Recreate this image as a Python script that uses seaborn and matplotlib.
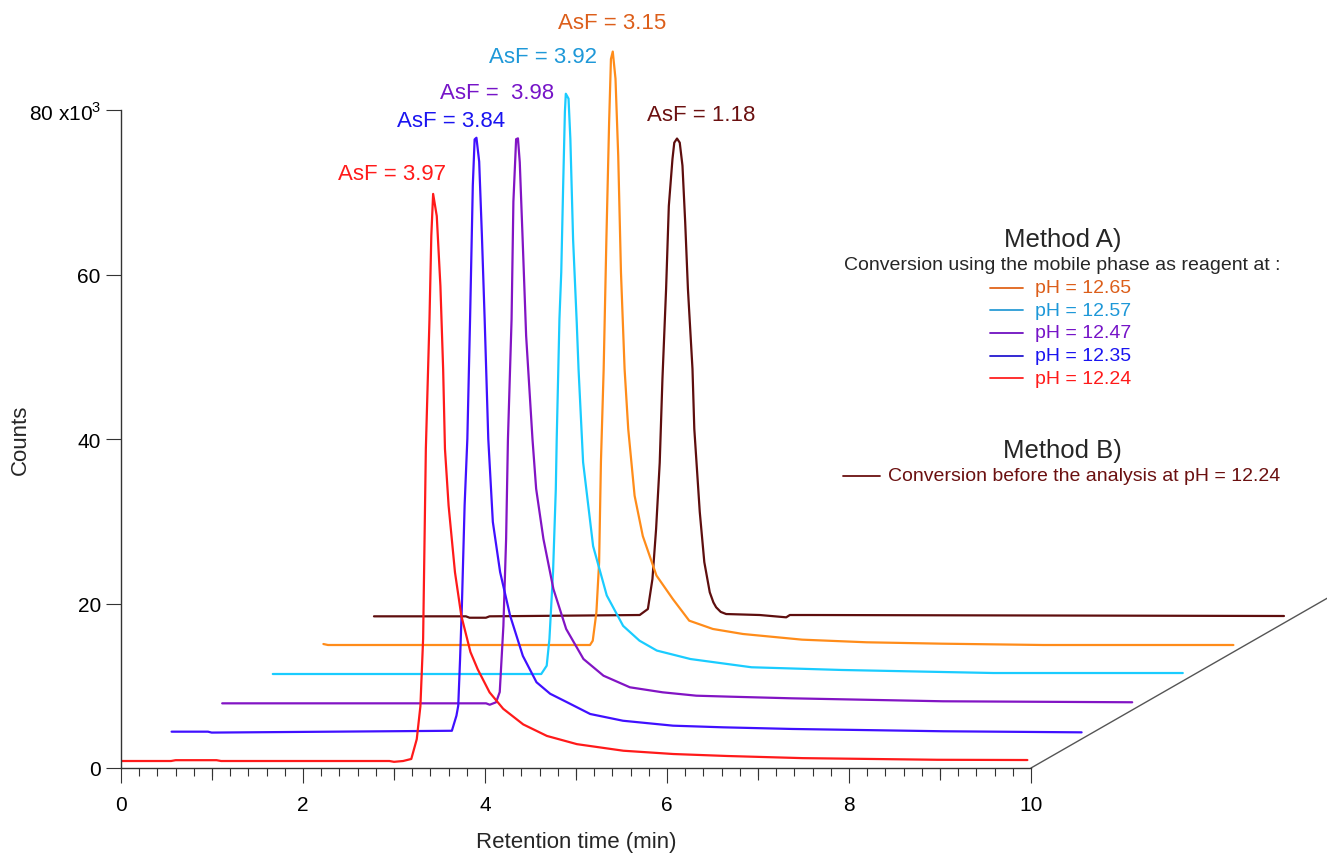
import numpy as np
import pandas as pd
import seaborn as sns
import matplotlib.pyplot as plt
from matplotlib.lines import Line2D
from matplotlib.ticker import FixedLocator, FuncFormatter

# chromatograms (time in min, counts in x10^3), before the waterfall offset
t_red = [0.00, 0.55, 0.60, 1.05, 1.10, 2.95, 3.00, 3.10, 3.19, 3.25, 3.29, 3.32, 3.35, 3.39, 3.41, 3.43,
         3.47, 3.51, 3.54, 3.56, 3.60, 3.67, 3.74, 3.84, 3.92, 4.05, 4.20, 4.42, 4.68, 5.01, 5.52, 6.07,
         6.66, 7.49, 8.23, 8.97, 9.96]
c_red = [0.85, 0.85, 0.95, 0.95, 0.85, 0.85, 0.75, 0.85, 1.1, 3.5, 7.5, 15.7, 38.8, 54.6, 64.7, 69.8,
         67.1, 58.6, 48.5, 38.8, 31.9, 23.8, 18.5, 14.1, 12.0, 9.2, 7.2, 5.3, 3.9, 2.9, 2.1, 1.7,
         1.46, 1.2, 1.1, 1.0, 0.97]

t_blue = [0.00, 0.40, 0.44, 3.08, 3.13, 3.15, 3.17, 3.19, 3.22, 3.25, 3.28, 3.31, 3.33, 3.35, 3.38,
          3.41, 3.44, 3.48, 3.53, 3.61, 3.72, 3.86, 4.01, 4.16, 4.34, 4.60, 4.96, 5.51, 6.06, 6.82,
          8.48, 10.0]
c_blue = [0.89, 0.89, 0.78, 1.0, 2.83, 4.05, 9.7, 16.2, 28.4, 36.5, 51.1, 67.3, 72.9, 73.1, 70.2,
          61.2, 51.1, 36.5, 26.4, 20.3, 15.0, 10.1, 6.9, 5.5, 4.5, 3.04, 2.22, 1.62, 1.42, 1.22,
          0.94, 0.81]

t_purple = [0.00, 2.90, 2.94, 3.01, 3.05, 3.09, 3.12, 3.14, 3.18, 3.20, 3.23, 3.25, 3.27, 3.30, 3.34,
            3.41, 3.45, 3.53, 3.64, 3.78, 3.97, 4.19, 4.48, 4.84, 5.21, 5.58, 6.26, 7.92, 10.0]
c_purple = [0.81, 0.81, 0.64, 0.94, 2.19, 10.2, 20.8, 32.9, 47.5, 61.8, 69.4, 69.5, 66.6, 57.7, 45.5,
            32.9, 26.9, 20.8, 14.7, 9.85, 6.2, 4.17, 2.76, 2.15, 1.74, 1.62, 1.42, 1.06, 0.94]

t_cyan = [0.00, 2.95, 3.01, 3.04, 3.08, 3.11, 3.12, 3.15, 3.17, 3.19, 3.21, 3.22, 3.25, 3.27, 3.30,
          3.34, 3.36, 3.41, 3.52, 3.67, 3.85, 4.03, 4.22, 4.59, 5.26, 6.25, 7.92, 10.0]
c_cyan = [0.85, 0.85, 1.86, 5.1, 13.3, 23.3, 29.4, 44.0, 49.7, 59.8, 69.2, 71.4, 70.8, 65.9, 53.7,
          43.6, 37.9, 26.6, 16.4, 10.4, 6.7, 4.9, 3.7, 2.67, 1.67, 1.34, 0.97, 0.97]

t_orange = [0.00, 0.05, 2.93, 2.96, 3.00, 3.03, 3.05, 3.08, 3.11, 3.14, 3.16, 3.18, 3.21, 3.24, 3.27,
            3.31, 3.35, 3.42, 3.51, 3.66, 3.84, 4.02, 4.28, 4.61, 5.26, 5.97, 6.80, 7.91, 10.0]
c_orange = [0.97, 0.85, 0.85, 1.37, 4.8, 10.9, 23.1, 34.4, 50.2, 64.4, 72.1, 73.0, 69.7, 60.3, 46.2,
            34.4, 27.1, 19.0, 14.1, 9.3, 6.44, 3.81, 2.80, 2.19, 1.50, 1.18, 1.01, 0.85, 0.85]

t_brown = [0.00, 1.01, 1.05, 1.23, 1.27, 2.92, 3.01, 3.06, 3.10, 3.14, 3.17, 3.21, 3.24, 3.28, 3.30,
           3.33, 3.36, 3.39, 3.42, 3.45, 3.50, 3.52, 3.58, 3.63, 3.69, 3.73, 3.76, 3.81, 3.87, 4.24,
           4.53, 4.57, 4.78, 10.0]
c_brown = [0.81, 0.81, 0.64, 0.64, 0.81, 0.97, 1.70, 5.35, 11.4, 19.5, 29.7, 40.6, 50.7, 56.4, 58.4,
           58.9, 58.4, 55.6, 48.7, 40.6, 30.9, 23.6, 13.5, 7.4, 3.73, 2.5, 1.91, 1.35, 1.09, 0.97,
           0.69, 0.97, 0.97, 0.85]

series = ["pH = 12.24", "pH = 12.35", "pH = 12.47", "pH = 12.57", "pH = 12.65",
          "Conversion before the analysis at pH = 12.24"]
asf_labels = ["AsF = 3.97", "AsF = 3.84", "AsF =  3.98", "AsF = 3.92", "AsF = 3.15", "AsF = 1.18"]
times = [t_red, t_blue, t_purple, t_cyan, t_orange, t_brown]
counts = [c_red, c_blue, c_purple, c_cyan, c_orange, c_brown]

line_colors = ["#FF1A1A", "#4010FF", "#8214C4", "#1ACCFF", "#FF8C1A", "#5E0E0E"]
text_colors = ["#FF1A1A", "#1A14F0", "#7614C8", "#1E98D8", "#DC5E1A", "#6B1010"]
key_colors = ["#FF2020", "#2418D0", "#7010C0", "#2A9CD6", "#E0641A", "#6B1010"]
# pixel offset of each AsF label from its peak (right, up)
label_shift = [(-41, 20), (-25, 17), (-21, 46), (-23, 37), (-1, 29), (24, 24)]

X_STEP = 0.556   # waterfall shift per trace, min
Y_STEP = 3.526   # waterfall shift per trace, x10^3 counts

frames = []
for i, name in enumerate(series):
    frames.append(pd.DataFrame({
        "time": np.array(times[i]) + i * X_STEP,
        "counts": np.array(counts[i]) + i * Y_STEP,
        "trace": name,
    }))
df = pd.concat(frames, ignore_index=True)

sns.set_theme(style="white")
plt.rcParams["font.family"] = ["Liberation Sans", "DejaVu Sans"]
plt.rcParams["mathtext.fontset"] = "custom"
plt.rcParams["mathtext.rm"] = "Liberation Sans"

W, H = 1327, 854
fig = plt.figure(figsize=(W / 100, H / 100), dpi=100)
ax = fig.add_axes([121 / W, 85 / H, 1206 / W, 760 / H])

palette = dict(zip(series, line_colors))
sns.lineplot(data=df, x="time", y="counts", hue="trace", hue_order=series[::-1],
             palette=palette, units="trace", estimator=None, sort=False,
             linewidth=1.6, legend=False, ax=ax,
             solid_joinstyle="round", solid_capstyle="round")

# depth axis of the waterfall
k = 6.5
ax.plot([10, 10 + k * X_STEP], [0, k * Y_STEP], color="#555555", lw=1.0, clip_on=False)

ax.set_xlim(0, 1206 / 91)
ax.set_ylim(0, 760 / 8.225)

for s in ["top", "right"]:
    ax.spines[s].set_visible(False)
for s in ["left", "bottom"]:
    ax.spines[s].set_color("#333333")
    ax.spines[s].set_linewidth(1.0)
ax.spines["left"].set_bounds(0, 80)
ax.spines["bottom"].set_bounds(0, 10)

ax.yaxis.set_major_locator(FixedLocator([0, 20, 40, 60, 80]))
ax.yaxis.set_major_formatter(FuncFormatter(
    lambda v, p: r"80 x10$^{\mathrm{3}}$" if v == 80 else f"{v:.0f}"))
ax.xaxis.set_major_locator(FixedLocator([0, 2, 4, 6, 8, 10]))
ax.xaxis.set_minor_locator(FixedLocator(np.round(np.arange(0, 10.01, 0.2), 1)))
ax.tick_params(axis="both", which="major", direction="out", color="#333333", width=0.8,
               labelsize=15, labelcolor="black")
ax.tick_params(axis="x", which="major", length=10.5, pad=9, bottom=True)
ax.tick_params(axis="x", which="minor", length=5.5, width=0.8, color="#333333", bottom=True)
ax.tick_params(axis="y", which="major", length=11, pad=3.5, left=True)

odd = ax.secondary_xaxis("bottom")
odd.xaxis.set_major_locator(FixedLocator([1, 3, 5, 7, 9]))
odd.tick_params(length=8.5, width=0.8, color="#333333", labelbottom=False)
odd.spines["bottom"].set_visible(False)

ax.set_xlabel("Retention time (min)", fontsize=16)
ax.set_ylabel("Counts", fontsize=16)
ax.xaxis.set_label_coords((576 - 121) / 1206, -(843 - 769) / 760)
ax.yaxis.set_label_coords(-(121 - 20) / 1206, (769 - 440) / 760)
ax.xaxis.label.set_va("center")
ax.yaxis.label.set_va("center")

# AsF labels above each peak
for i in range(len(series)):
    j = int(np.argmax(counts[i]))
    px, py = times[i][j] + i * X_STEP, counts[i][j] + i * Y_STEP
    ax.annotate(asf_labels[i], xy=(px, py), xytext=label_shift[i], textcoords="offset pixels",
                ha="center", va="center", fontsize=16, color=text_colors[i])


# hand-drawn key
def fx(x):
    return x / W


def fy(y):
    return 1 - y / H


fig.text(fx(1063), fy(240), "Method A)", fontsize=18.5, ha="center", va="center")
fig.text(fx(1062), fy(266), "Conversion using the mobile phase as reagent at :",
         fontsize=14, ha="center", va="center")
for n, i in enumerate([4, 3, 2, 1, 0]):
    y = 288.5 + n * 22.7
    fig.add_artist(Line2D([fx(990), fx(1023)], [fy(y), fy(y)], color=key_colors[i], lw=1.3))
    fig.text(fx(1035), fy(y), series[i], fontsize=14, ha="left", va="center", color=text_colors[i])

fig.text(fx(1062), fy(451), "Method B)", fontsize=18.5, ha="center", va="center")
fig.add_artist(Line2D([fx(843), fx(880)], [fy(477), fy(477)], color=key_colors[5], lw=1.3))
fig.text(fx(888), fy(477), series[5], fontsize=14, ha="left", va="center", color=text_colors[5])

fig.savefig("out.png", dpi=100)
